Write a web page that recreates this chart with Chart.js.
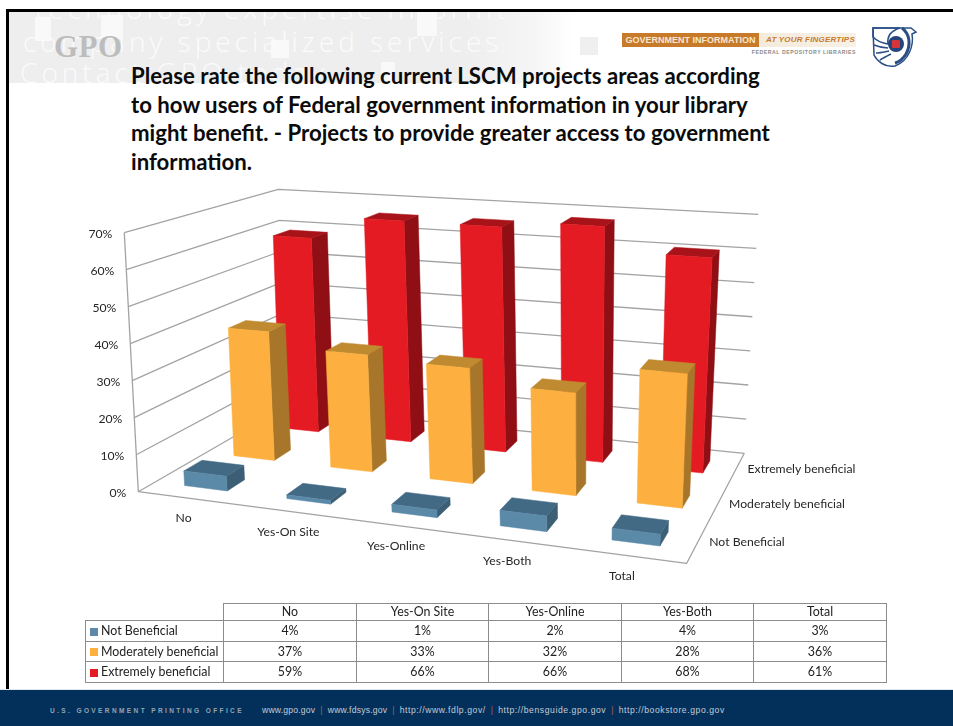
<!DOCTYPE html>
<html><head><meta charset="utf-8">
<style>
html,body{margin:0;padding:0;background:#fff;width:953px;height:726px;overflow:hidden;font-family:Lato,sans-serif}
.abs{position:absolute}
#frameTop{left:6px;top:9px;width:947px;height:3px;background:#000}
#frameLeft{left:6px;top:9px;width:3px;height:681px;background:#000}
#band{left:9px;top:12px;width:600px;height:71px;overflow:hidden;background:linear-gradient(90deg,#eeeeee 0,#eeeeee 76%,#f6f6f6 88%,#fff 94%)}
#band span{position:absolute;color:#fbfbfb;font-family:"Open Sans",sans-serif;font-weight:300;font-size:28px;letter-spacing:4px;white-space:nowrap;line-height:30px}
#band i{position:absolute;background:#f9f9f9}
#logo{left:54px;top:29px;font:bold 31px "Liberation Serif",serif;color:#bdbdbd;letter-spacing:.5px}
#title{left:131px;top:62px;width:700px;font-weight:700;font-size:22.2px;line-height:28.5px;color:#0b0b0b;white-space:nowrap}
#gi{left:622px;top:33px;width:234px;height:14px;background:linear-gradient(90deg,#efe2cd 0,#f7f1e6 100%);border-radius:1px}
#gi b{position:absolute;left:0;top:0;width:137px;height:14px;background:#c77a2a;color:#f8e6cf;font:bold 9px/14px "Liberation Sans",sans-serif;text-align:center;white-space:nowrap}
#gi em{position:absolute;left:144px;top:0;color:#c77a2a;font:italic bold 8px/14px "Liberation Sans",sans-serif;white-space:nowrap;letter-spacing:.2px}
#fd{left:700px;top:49px;width:156px;text-align:right;color:#8a8a8a;font:bold 5.2px/7px "Liberation Sans",sans-serif;letter-spacing:.55px;white-space:nowrap}
#footer{left:0;top:689px;width:953px;height:37px;background:#03305b;border-top:1px solid #dfe6ee;box-sizing:border-box;color:#b9c2cc}
#footer div{position:absolute;top:16px;white-space:nowrap;font:6.5px/9px "Liberation Sans",sans-serif}
#footer .gp{left:50px;font-weight:bold;letter-spacing:2.4px;color:#96a3b2}
#footer .ln{left:262px;font-size:8.6px;letter-spacing:.2px;color:#c3ccd6}
#footer .ln u{text-decoration:none;letter-spacing:.58px}
#footer s{text-decoration:none;color:#a0605a;margin:0 5px}
canvas{position:absolute;left:0;top:0}
table{position:absolute;left:85px;top:603px;border-collapse:collapse;table-layout:fixed;font-size:12.4px;color:#222}
td{border:1px solid #8c8c8c;text-align:center;padding:0;overflow:hidden;white-space:nowrap;line-height:14px}
td:first-child{text-align:left;padding-left:3px}
td.blank{border-left:none;border-top:none}
td i{display:inline-block;width:8px;height:8px;margin:0 3px 0 1px;vertical-align:-0.5px}
</style></head><body>
<div class="abs" id="frameTop"></div><div class="abs" id="frameLeft"></div>
<div class="abs" id="band">
  <i style="left:26px;top:5px;width:16px;height:24px"></i><i style="left:92px;top:3px;width:22px;height:24px"></i>
  <i style="left:262px;top:28px;width:18px;height:18px"></i><i style="left:408px;top:0;width:20px;height:24px"></i>
  <i style="left:372px;top:50px;width:14px;height:21px"></i>
  <i style="left:571px;top:25px;width:18px;height:18px;background:#efefef"></i>
  <span style="left:26px;top:-19px">technology expertise in print</span>
  <span style="left:14px;top:14px">company specialized services</span>
  <span style="left:11px;top:45px">Contact GPO today</span>
</div>
<div class="abs" id="logo">GPO</div>
<div class="abs" id="title">Please rate the following current LSCM projects areas according<br>to how users of Federal government information in your library<br>might benefit. - Projects to provide greater access to government<br>information.</div>
<div class="abs" id="gi"><b>GOVERNMENT INFORMATION</b><em>AT YOUR FINGERTIPS</em></div>
<div class="abs" id="fd">FEDERAL DEPOSITORY LIBRARIES</div>
<svg class="abs" style="left:871px;top:25px" width="48" height="44" viewBox="0 0 48 44">
  <path d="M2 3H40L45 7 41 9C43 20 38 36 24 41 14 43 6 36 3 30L2 3Z" fill="#fff" stroke="#2a4f86" stroke-width="1.5"/>
  <path d="M2 3H29C19 6 16 12 17 19 10 18 5 15 2 12ZM3 20C8 22 12 23 17 23M5 28C9 28 13 27 18 26M9 35C12 33 16 31 20 29" fill="none" stroke="#2a4f86" stroke-width="1.6"/>
  <path d="M31 3C39 9 40 20 35 29 32 34 28 37 24 38" fill="none" stroke="#2a4f86" stroke-width="3"/>
  <circle cx="25" cy="19" r="8" fill="#24457c"/><rect x="21" y="15" width="8" height="8" rx="1" fill="#d7333b"/>
</svg>
<canvas id="c" width="953" height="726"></canvas>
<table id="tbl"></table>
<div class="abs" id="footer"><div class="gp">U.S. GOVERNMENT PRINTING OFFICE</div><div class="ln">www.gpo.gov<s>|</s>www.fdsys.gov<s>|</s><u>http://www.fdlp.gov/</u><s>|</s><u>http://bensguide.gpo.gov</u><s>|</s><u>http://bookstore.gpo.gov</u></div></div>
<script src="https://cdn.jsdelivr.net/npm/chart.js@4/dist/chart.umd.min.js"></script>
<script>
const categories = ["No","Yes-On Site","Yes-Online","Yes-Both","Total"];
const seriesNames = ["Not Beneficial","Moderately beneficial","Extremely beneficial"];
const notBeneficial = [4,1,2,4,3];
const moderatelyBeneficial = [37,33,32,28,36];
const extremelyBeneficial = [59,66,66,68,61];
const yMax = 70, yStep = 10;
const frontColors = ["#5b89a8","#fdb03f","#e41b23"];
const sideColors = ["#3d5f76","#a8762b","#8f0f15"];
const topColors = ["#436a84","#c08a30","#a81219"];
const seriesValues = [notBeneficial,moderatelyBeneficial,extremelyBeneficial];

function quadMap(p0,p1,p2,p3){
  const dx1=p1[0]-p2[0],dx2=p3[0]-p2[0],sx=p0[0]-p1[0]+p2[0]-p3[0];
  const dy1=p1[1]-p2[1],dy2=p3[1]-p2[1],sy=p0[1]-p1[1]+p2[1]-p3[1];
  const den=dx1*dy2-dx2*dy1, g=(sx*dy2-dx2*sy)/den, h=(dx1*sy-sx*dy1)/den;
  const a=p1[0]-p0[0]+g*p1[0],b=p3[0]-p0[0]+h*p3[0],c=p0[0];
  const d=p1[1]-p0[1]+g*p1[1],e=p3[1]-p0[1]+h*p3[1],f=p0[1];
  const perspectiveMix=0.5;
  return (u,v)=>{
    const w=g*u+h*v+1;
    const out=[0,1].map(k=>{
      const hm=k?(d*u+e*v+f)/w:(a*u+b*v+c)/w;
      const bl=(1-v)*((1-u)*p0[k]+u*p1[k])+v*((1-u)*p3[k]+u*p2[k]);
      return perspectiveMix*hm+(1-perspectiveMix)*bl;
    });
    return out;
  };
}
// Perspective frame of the 3-D box: floor and the plane at the top of the value axis
const floorMap = quadMap([138.3,491.7],[686.7,563.3],[744.3,453.3],[285,407]);
const roofMap  = quadMap([124.3,232.7],[700,281],[758.3,214.3],[278.3,189.3]);
function project(chart,u,w,v){
  const f=floorMap(u,w), t=roofMap(u,w);
  return [f[0]+(t[0]-f[0])*v, f[1]+(t[1]-f[1])*v];
}
function uOf(chart,i,off){const s=chart.scales.x;return s.getDecimalForPixel(s.getPixelForValue(i))+(off||0);}
function wOf(chart,j,off){const s=chart.scales.z;return s.getDecimalForPixel(s.getPixelForValue(j))+(off||0);}
function vOf(chart,val){const s=chart.scales.y;return s.getDecimalForPixel(s.getPixelForValue(val));}
function poly(ctx,pts,fill){
  ctx.beginPath();pts.forEach((p,i)=>i?ctx.lineTo(p[0],p[1]):ctx.moveTo(p[0],p[1]));ctx.closePath();
  ctx.fillStyle=fill;ctx.fill();ctx.lineWidth=.5;ctx.strokeStyle=fill;ctx.stroke();
}
const barHalfU=0.042, barHalfW=0.06;
class Bar3DController extends Chart.BarController{
  draw(){
    const chart=this.chart,ctx=chart.ctx,j=this.index,vals=this.getDataset().data;
    vals.forEach((val,i)=>{
      const u0=uOf(chart,i,-barHalfU),u1=uOf(chart,i,barHalfU),w0=wOf(chart,j,-barHalfW),w1=wOf(chart,j,barHalfW),v=vOf(chart,val);
      const P=(u,w,h)=>project(chart,u,w,h);
      poly(ctx,[P(u1,w0,0),P(u1,w1,0),P(u1,w1,v),P(u1,w0,v)],sideColors[j]);
      poly(ctx,[P(u0,w0,v),P(u1,w0,v),P(u1,w1,v),P(u0,w1,v)],topColors[j]);
      poly(ctx,[P(u0,w0,0),P(u1,w0,0),P(u1,w0,v),P(u0,w0,v)],frontColors[j]);
    });
  }
}
Bar3DController.id='bar3d';
Bar3DController.defaults=Chart.BarController.defaults;
Bar3DController.overrides=Chart.BarController.overrides;
Chart.register(Bar3DController);

const box3d={
  id:'box3d',
  beforeDatasetsDraw(chart){
    const ctx=chart.ctx,y=chart.scales.y;
    ctx.save();ctx.strokeStyle='#a3a3a3';ctx.lineWidth=1.3;ctx.lineJoin='round';
    const line=(pts)=>{ctx.beginPath();pts.forEach((p,i)=>i?ctx.lineTo(p[0],p[1]):ctx.moveTo(p[0],p[1]));ctx.stroke();};
    y.ticks.forEach(t=>{
      const v=vOf(chart,t.value);
      line([project(chart,0,0,v),project(chart,0,1,v),project(chart,1,1,v)]);
    });
    line([project(chart,0,0,0),project(chart,0,0,1)]);
    line([project(chart,0,0,0),project(chart,1,0,0),project(chart,1,1,0)]);
    ctx.fillStyle='#262626';ctx.font='12.2px Lato,sans-serif';ctx.textBaseline='middle';ctx.textAlign='right';
    y.ticks.forEach(t=>{
      const p=project(chart,0,0,vOf(chart,t.value));
      ctx.fillText(t.label,p[0]-12,p[1]+1);
    });
    ctx.restore();
  },
  afterDatasetsDraw(chart){
    const ctx=chart.ctx;
    ctx.save();ctx.fillStyle='#262626';ctx.font='12.2px Lato,sans-serif';ctx.textBaseline='middle';
    ctx.textAlign='center';
    categories.forEach((c,i)=>{
      const p=floorMap(uOf(chart,i),0);
      ctx.fillText(c,p[0]-6,p[1]+20);
    });
    ctx.textAlign='left';
    seriesNames.forEach((s,j)=>{
      const p=floorMap(1,wOf(chart,j));
      ctx.fillText(s,p[0]+12,p[1]-1);
    });
    ctx.restore();
  }
};

new Chart(document.getElementById('c'),{
  type:'bar3d',
  data:{labels:categories,datasets:seriesNames.map((n,j)=>({label:n,data:seriesValues[j],backgroundColor:frontColors[j],clip:false}))},
  plugins:[box3d],
  options:{
    responsive:false,animation:false,
    layout:{padding:{left:138,right:266,top:233,bottom:234}},
    plugins:{legend:{display:false},tooltip:{enabled:false},title:{display:false}},
    scales:{
      x:{type:'category',display:false,offset:true},
      y:{type:'linear',display:false,min:0,max:yMax,ticks:{stepSize:yStep,callback:v=>v+'%'}},
      z:{type:'category',axis:'x',display:false,offset:true,labels:seriesNames}
    }
  }
});

// data table under the chart
const colW=[138,133,132,133,132,133], rowH=[17,21,20,21,21];
const tbl=document.getElementById('tbl');
tbl.style.width=colW.reduce((a,b)=>a+b,0)+'px';
let html='<colgroup>'+colW.map(w=>`<col style="width:${w}px">`).join('')+'</colgroup>';
html+=`<tr style="height:${rowH[0]}px"><td class="blank"></td>`+categories.map(c=>`<td>${c}</td>`).join('')+'</tr>';
seriesNames.forEach((n,j)=>{
  html+=`<tr style="height:${rowH[j+1]}px"><td><i style="background:${frontColors[j]}"></i>${n}</td>`+seriesValues[j].map(v=>`<td>${v}%</td>`).join('')+'</tr>';
});
tbl.innerHTML=html;
</script>
</body></html>
